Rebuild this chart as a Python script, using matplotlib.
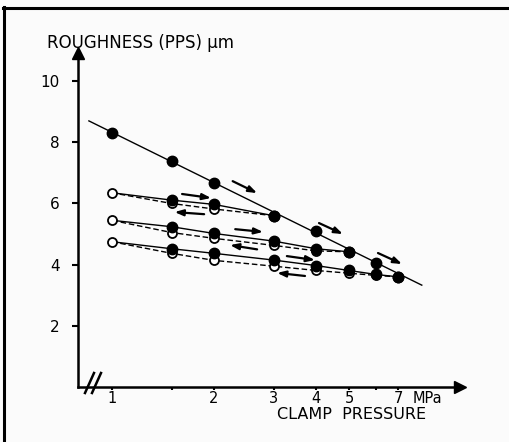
import numpy as np
import matplotlib
matplotlib.use("Agg")
import matplotlib.pyplot as plt
from matplotlib.ticker import NullLocator
from matplotlib.lines import Line2D

plt.rcParams['font.family'] = ['DejaVu Sans']

# clamp pressure (MPa)
x_tick_vals = [1, 1.5, 2, 3, 4, 5, 6, 7]
x_tick_labels = ['1', '', '2', '3', '4', '5', '', '7']
y_tick_vals = [2, 4, 6, 8, 10]

# first loading (fit line + points)
fit_x = [0.855, 8.2]
fit_y = [8.7, 3.33]
s1_x = [1, 1.5, 2, 3, 4, 5, 6, 7]
s1_y = [8.3, 7.4, 6.68, 5.6, 5.1, 4.42, 4.06, 3.6]

# reloading cycles: loading (solid) and unloading (dashed)
s2_load_x = [1, 1.5, 2, 3]
s2_load_y = [6.35, 6.11, 5.97, 5.6]
s2_unload_x = [3, 2, 1.5, 1]
s2_unload_y = [5.6, 5.82, 6.0, 6.35]

s3_load_x = [1, 1.5, 2, 3, 4, 5]
s3_load_y = [5.45, 5.24, 5.02, 4.77, 4.52, 4.42]
s3_unload_x = [5, 4, 3, 2, 1.5, 1]
s3_unload_y = [4.42, 4.45, 4.63, 4.86, 5.05, 5.45]

s4_load_x = [1, 1.5, 2, 3, 4, 5, 6, 7]
s4_load_y = [4.75, 4.52, 4.37, 4.15, 3.97, 3.81, 3.68, 3.6]
s4_unload_x = [7, 6, 5, 4, 3, 2, 1.5, 1]
s4_unload_y = [3.6, 3.65, 3.72, 3.81, 3.95, 4.14, 4.37, 4.75]

# direction arrows (start -> end)
arr_x0 = [2.27, 4.08, 6.09, 1.61, 1.87, 2.31, 2.68, 3.28, 3.71]
arr_y0 = [6.73, 5.36, 4.38, 6.31, 5.65, 5.16, 4.50, 4.28, 3.63]
arr_x1 = [2.68, 4.80, 7.17, 1.96, 1.53, 2.79, 2.23, 3.97, 3.07]
arr_y1 = [6.34, 5.00, 4.02, 6.18, 5.72, 5.07, 4.64, 4.15, 3.73]

W, H = 509, 442
fig = plt.figure(figsize=(W / 100, H / 100), dpi=100)
fig.patch.set_facecolor('#fbfbfb')
ax = fig.add_axes([78 / W, 1 - 387 / H, 382 / W, 334 / H])
ax.set_facecolor('none')

ax.set_xscale('log')
ax.set_xlim(0.794, 10.63)
ax.set_ylim(0, 10.92)

# fit line of first loading
ax.plot(fit_x, fit_y, color='black', lw=1.0, zorder=2)

# unloading curves (dashed)
for ux, uy in [(s2_unload_x, s2_unload_y), (s3_unload_x, s3_unload_y), (s4_unload_x, s4_unload_y)]:
    ax.plot(ux, uy, color='black', lw=1.0, ls=(0, (4, 2)), zorder=2)
    ax.plot(ux[1:], uy[1:], ls='none', marker='o', ms=6.5, mfc='white', mec='black', mew=1.3, zorder=3)

# loading curves (solid)
for lx, ly in [(s2_load_x, s2_load_y), (s3_load_x, s3_load_y), (s4_load_x, s4_load_y)]:
    ax.plot(lx, ly, color='black', lw=1.0, zorder=2)
    ax.plot(lx[1:], ly[1:], ls='none', marker='o', ms=7.5, color='black', zorder=4)

ax.plot(s1_x, s1_y, ls='none', marker='o', ms=7.5, color='black', zorder=4)

for x0, y0, x1, y1 in zip(arr_x0, arr_y0, arr_x1, arr_y1):
    ax.annotate('', xy=(x1, y1), xytext=(x0, y0),
                arrowprops=dict(arrowstyle='-|>,head_length=0.5,head_width=0.18',
                                color='black', lw=1.6, shrinkA=0, shrinkB=0), zorder=5)

# axes styling
for side in ['top', 'right']:
    ax.spines[side].set_visible(False)
for side in ['left', 'bottom']:
    ax.spines[side].set_linewidth(1.8)

ax.set_xticks(x_tick_vals)
ax.set_xticklabels(x_tick_labels)
ax.xaxis.set_minor_locator(NullLocator())
ax.set_yticks(y_tick_vals)
ax.set_yticklabels([str(v) for v in y_tick_vals])
ax.tick_params(axis='x', direction='out', length=2, width=1.5, pad=1, labelsize=10.5)
ax.tick_params(axis='y', direction='out', length=4, width=1.5, pad=9, labelsize=11)

# axis arrow heads
ax.plot([0], [1], marker='^', ms=9, color='black', transform=ax.transAxes, clip_on=False)
ax.plot([1], [0], marker='>', ms=9, color='black', transform=ax.transAxes, clip_on=False)

# axis break marks
for dx in [0, 7]:
    ax.plot([(85 + dx - 78) / 382, (94 + dx - 78) / 382],
            [(387 - 393) / 334, (387 - 373) / 334],
            color='black', lw=1.8, transform=ax.transAxes, clip_on=False)

fig.text(47 / W, 1 - 48 / H, 'ROUGHNESS (PPS) µm', fontsize=12, va='baseline', ha='left')
fig.text(413 / W, 1 - 403 / H, 'MPa', fontsize=10.5, va='baseline', ha='left')
fig.text(352 / W, 1 - 419 / H, 'CLAMP  PRESSURE', fontsize=11.5, va='baseline', ha='center')

# figure frame (top and left edges)
fig.add_artist(Line2D([3 / W, 1], [1 - 7.5 / H, 1 - 7.5 / H], color='black', lw=2.2))
fig.add_artist(Line2D([4 / W, 4 / W], [0, 1 - 7 / H], color='black', lw=2.2))

fig.savefig('out.png', dpi=100)
